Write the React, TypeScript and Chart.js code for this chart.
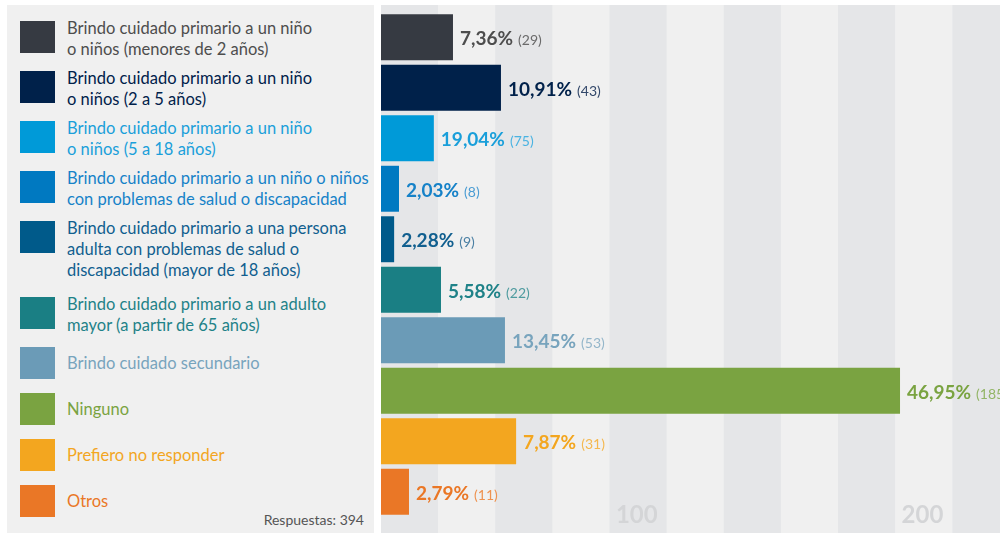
import React, { useEffect, useRef } from "react";
import { Chart, registerables } from "chart.js";

Chart.register(...registerables);

// ---- data ----
const categories: string[][] = [
  ["Brindo cuidado primario a un niño", "o niños (menores de 2 años)"],
  ["Brindo cuidado primario a un niño", "o niños (2 a 5 años)"],
  ["Brindo cuidado primario a un niño", "o niños (5 a 18 años)"],
  ["Brindo cuidado primario a un niño o niños", "con problemas de salud o discapacidad"],
  ["Brindo cuidado primario a una persona", "adulta con problemas de salud o", "discapacidad (mayor de 18 años)"],
  ["Brindo cuidado primario a un adulto", "mayor (a partir de 65 años)"],
  ["Brindo cuidado secundario"],
  ["Ninguno"],
  ["Prefiero no responder"],
  ["Otros"],
];
// bar lengths as drawn in the reference (axis units)
const barLengths = [25.2, 42.0, 18.5, 6.3, 4.6, 21.0, 43.4, 181.7, 47.3, 9.8];
const percents = [7.36, 10.91, 19.04, 2.03, 2.28, 5.58, 13.45, 46.95, 7.87, 2.79];
const counts = [29, 43, 75, 8, 9, 22, 53, 185, 31, 11];
const barColors = [
  "#363a42", "#00214a", "#009ad8", "#0079c1", "#005a8a",
  "#1a7f84", "#6b9bb7", "#7aa341", "#f3a61f", "#ea7726",
];
const textColors = [
  "#4d4d4d", "#00214a", "#1a9fda", "#1682c8", "#115f8f",
  "#1f8288", "#78a4bd", "#7aa341", "#f3a61f", "#ea7726",
];
const countColors = [
  "#6a6a6a", "#33486a", "#4ab3e2", "#4a9cd3", "#4a7fa3",
  "#4e9b9f", "#94b6ca", "#93b566", "#f5b84f", "#ee9250",
];
const tickValues = [100, 200];
const tickLabels = ["100", "200"];
const totalResponses = 394;

const FONT = "Lato, 'Noto Sans', sans-serif";
const X_MAX = 216.7;
const STRIPE = 20;

function fmtPct(v: number) {
  return v.toFixed(2).replace(".", ",") + "%";
}

const stripesPlugin = {
  id: "stripes",
  beforeDatasetsDraw(chart: any) {
    const { ctx, scales, height } = chart;
    const xs = scales.x;
    ctx.save();
    let i = 0;
    for (let v = 0; v < X_MAX; v += STRIPE, i++) {
      const x1 = xs.getPixelForValue(v);
      const x2 = xs.getPixelForValue(Math.min(v + STRIPE, X_MAX));
      ctx.fillStyle = i % 2 === 0 ? "#e5e6e8" : "#f0f0f0";
      ctx.fillRect(x1, 5, x2 - x1 + 0.5, height - 5);
    }
    ctx.font = `bold 24px ${FONT}`;
    ctx.fillStyle = "#d4d5d7";
    ctx.textAlign = "right";
    ctx.textBaseline = "alphabetic";
    tickValues.forEach((v, k) => {
      ctx.fillText(tickLabels[k], xs.getPixelForValue(v) - 9, 523);
    });
    ctx.restore();
  },
};

const labelsPlugin = {
  id: "barLabels",
  afterDatasetsDraw(chart: any) {
    const { ctx } = chart;
    const meta = chart.getDatasetMeta(0);
    ctx.save();
    ctx.textAlign = "left";
    ctx.textBaseline = "alphabetic";
    meta.data.forEach((bar: any, i: number) => {
      const x = bar.x + 7;
      const y = bar.y + 8;
      const p = fmtPct(percents[i]);
      ctx.font = `bold 19px ${FONT}`;
      ctx.fillStyle = textColors[i];
      ctx.fillText(p, x, y);
      const w = ctx.measureText(p).width;
      ctx.font = `14px ${FONT}`;
      ctx.fillStyle = countColors[i];
      ctx.fillText(`(${counts[i]})`, x + w + 5, y);
    });
    ctx.restore();
  },
};

function BarChart() {
  const ref = useRef<HTMLCanvasElement>(null);
  useEffect(() => {
    if (!ref.current) return;
    const chart = new Chart(ref.current, {
      type: "bar",
      data: {
        labels: categories.map((c) => c.join(" ")),
        datasets: [
          {
            data: barLengths,
            backgroundColor: barColors,
            borderWidth: 0,
            barPercentage: 0.91,
            categoryPercentage: 1,
          },
        ],
      },
      options: {
        indexAxis: "y",
        animation: false,
        responsive: false,
        maintainAspectRatio: false,
        layout: { padding: { top: 12, bottom: 16, left: 0, right: 0 } },
        scales: {
          x: { min: 0, max: X_MAX, display: false },
          y: { display: false },
        },
        plugins: { legend: { display: false }, tooltip: { enabled: false } },
      } as any,
      plugins: [stripesPlugin, labelsPlugin],
    });
    return () => chart.destroy();
  }, []);
  return <canvas ref={ref} width={619} height={533} style={{ display: "block", width: 619, height: 533 }} />;
}

export default function App() {
  return (
    <div style={{ position: "absolute", left: 0, top: 0, width: 1000, height: 533, background: "#fff", overflow: "hidden" }}>
      <div
        style={{
          position: "absolute",
          left: 7,
          top: 5,
          width: 367,
          height: 528,
          background: "#f0f0f0",
          boxSizing: "border-box",
          paddingTop: 16,
          paddingLeft: 13,
          fontFamily: FONT,
        }}
      >
        {categories.map((lines, i) => (
          <div
            key={i}
            style={{
              display: "flex",
              alignItems: "flex-start",
              marginBottom: lines.length >= 3 ? 16 : 11,
            }}
          >
            <div style={{ width: 35, height: 32, background: barColors[i], flex: "0 0 auto" }} />
            <div
              style={{
                marginLeft: 12,
                marginTop: -3,
                minHeight: 38,
                display: "flex",
                flexDirection: "column",
                justifyContent: "center",
                fontSize: 16.5,
                lineHeight: "21px",
                color: textColors[i],
                whiteSpace: "nowrap",
              }}
            >
              {lines.map((l, k) => (
                <span key={k}>{l}</span>
              ))}
            </div>
          </div>
        ))}
        <div
          style={{
            position: "absolute",
            right: 10,
            bottom: 5,
            fontSize: 14,
            color: "#555",
            lineHeight: "16px",
          }}
        >
          Respuestas: {totalResponses}
        </div>
      </div>
      <div style={{ position: "absolute", left: 381, top: 0, width: 619, height: 533 }}>
        <BarChart />
      </div>
    </div>
  );
}
